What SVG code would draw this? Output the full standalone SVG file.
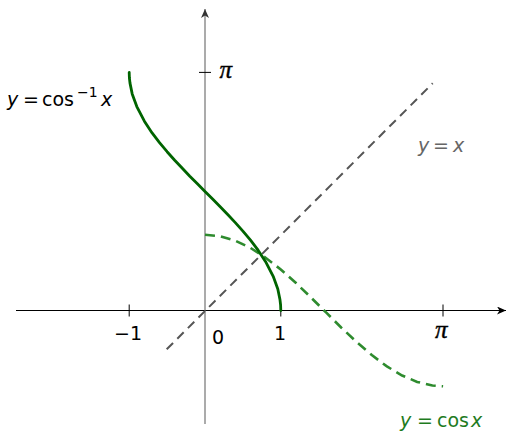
<svg xmlns="http://www.w3.org/2000/svg" width="507" height="431" viewBox="0 0 507 431">
<defs>
<style>
.lbl{font-family:"DejaVu Sans","Open Sans",sans-serif;font-size:19px;fill:#000}
.it{font-style:italic}
.pi{font-family:"Liberation Serif","DejaVu Serif",serif;font-style:italic;font-size:25px;fill:#000;stroke:#000;stroke-width:0.4}
.axis{stroke-width:1.1;fill:none}
.tick{stroke:#000;stroke-width:1}
</style>
<marker id="ah" markerWidth="10" markerHeight="8" refX="9" refY="4" orient="auto" markerUnits="userSpaceOnUse">
<path d="M0,0 L9,4 L0,8 L2.5,4 Z" fill="#000"/>
</marker>
<marker id="ahg" markerWidth="10" markerHeight="8" refX="9" refY="4" orient="auto" markerUnits="userSpaceOnUse">
<path d="M0,0 L9,4 L0,8 L2.5,4 Z" fill="#333"/>
</marker>
</defs>
<rect width="507" height="431" fill="#fff"/>
<g id="axes">
<line class="axis" x1="16" y1="310.5" x2="506" y2="310.5" stroke="#000" marker-end="url(#ah)"/>
<line class="axis" x1="205" y1="424" x2="205" y2="9" stroke="#666" marker-end="url(#ahg)"/>
<line class="tick" x1="129.2" y1="304.5" x2="129.2" y2="316.5"/>
<line class="tick" x1="280.8" y1="304.5" x2="280.8" y2="316.5"/>
<line class="tick" x1="443" y1="304.5" x2="443" y2="316.5"/>
<line class="tick" x1="199" y1="72.4" x2="211" y2="72.4"/>
</g>
<g id="connectors">
<line id="yx" x1="166.7" y1="349.3" x2="432.7" y2="83.3" stroke="#555" stroke-width="2" stroke-dasharray="9 6" fill="none"/>
<polyline id="cos" fill="none" stroke="#2e8b2e" stroke-width="2.6" stroke-dasharray="10 6" points="205,234.7 220.2,236.2 235.3,240.7 250.5,247.9 265.6,257.7 280.8,269.5 296,283 311.1,297.6 326.3,312.7 341.4,327.7 356.6,342 371.8,355.1 386.9,366.4 402.1,375.5 417.2,381.9 432.4,385.5 443.1,386.3"/>
<polyline id="arccos" fill="none" stroke="#006400" stroke-width="2.8" stroke-linejoin="round" stroke-linecap="round" points="129.2,72.4 129.4,78 130,83.1 132.2,93.9 136.8,106.6 144.4,121.2 151.9,132.7 159.5,142.7 167.1,151.7 174.7,160.2 182.3,168.3 189.8,176.2 197.4,183.8 205,191.4 212.6,199 220.2,206.7 227.7,214.5 235.3,222.6 242.9,231.1 250.5,240.2 258.1,250.2 265.6,261.7 273.2,276.3 277.8,289 280,299.8 280.6,305 280.8,310.5"/>
</g>
<g id="labels">
<text class="lbl" y="106"><tspan class="it" x="7">y</tspan><tspan x="23">=</tspan><tspan x="42">cos</tspan><tspan font-size="14" x="77" y="97">−1</tspan><tspan class="it" x="101" y="106">x</tspan></text>
<text class="pi" x="219.5" y="78">π</text>
<text class="lbl" y="152" style="fill:#666"><tspan class="it" x="418">y</tspan><tspan x="433">=</tspan><tspan class="it" x="453">x</tspan></text>
<text class="lbl" x="142" y="340" text-anchor="end">−1</text>
<text class="lbl" x="212" y="344">0</text>
<text class="lbl" x="274" y="340">1</text>
<text class="pi" x="435" y="338">π</text>
<text class="lbl" y="427" style="fill:#1e7b1e"><tspan class="it" x="400">y</tspan><tspan x="417">=</tspan><tspan x="437">cos</tspan><tspan class="it" x="471">x</tspan></text>
</g>
</svg>
